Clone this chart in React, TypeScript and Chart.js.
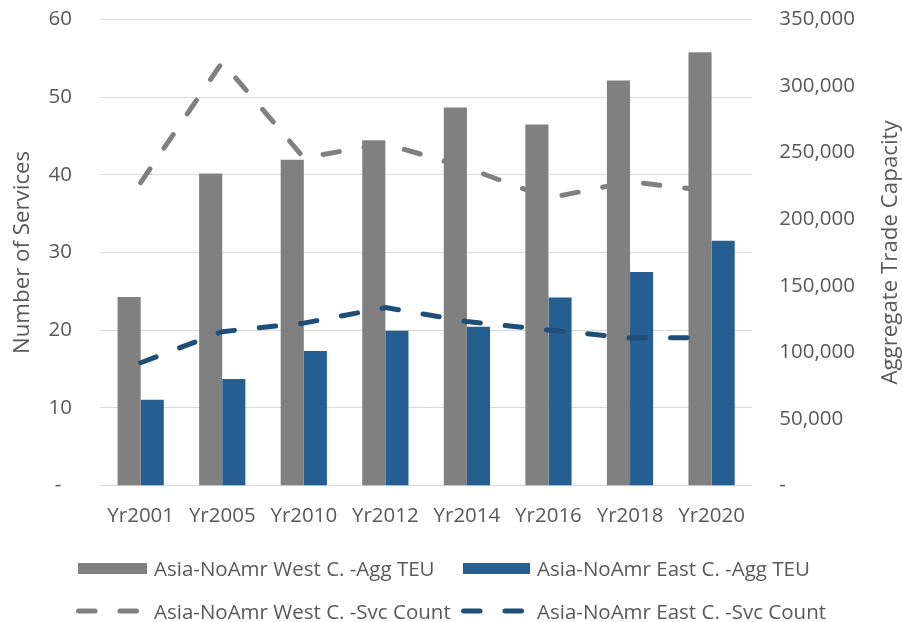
import React, { useEffect, useRef } from 'react';
import { Chart, registerables } from 'chart.js';

Chart.register(...registerables);

// ---------- data ----------
const categories = ['Yr2001', 'Yr2005', 'Yr2010', 'Yr2012', 'Yr2014', 'Yr2016', 'Yr2018', 'Yr2020'];
const westAggTEU = [141600, 234400, 244700, 259200, 283800, 271200, 304100, 325400];
const eastAggTEU = [64400, 80000, 101000, 116100, 119100, 141100, 160400, 183800];
const westSvcCount = [39, 54.5, 42.2, 44, 40.9, 37.0, 39.1, 37.9];
const eastSvcCount = [15.8, 19.8, 20.9, 22.9, 21.1, 20.0, 19.0, 19.0];
const seriesNames = [
  'Asia-NoAmr West C. -Agg TEU',
  'Asia-NoAmr East C. -Agg TEU',
  'Asia-NoAmr West C. -Svc Count',
  'Asia-NoAmr East C. -Svc Count',
];
const leftAxisTitle = 'Number of Services';
const rightAxisTitle = 'Aggregate Trade Capacity';
const leftAxisMax = 60;
const leftAxisStep = 10;
const rightAxisMax = 350000;
const rightAxisStep = 50000;

// ---------- styles ----------
const GRAY = '#808080';
const BLUE = '#255E91';
const NAVY = '#1F4E79';
const TEXT = '#595959';
const GRID = '#D9D9D9';
const FONT = '"Open Sans", "Noto Sans", sans-serif';

const rightTitlePlugin = {
  id: 'rightTitle',
  afterDraw(chart: any) {
    const { ctx, chartArea, width } = chart;
    ctx.save();
    ctx.translate(width - 11, (chartArea.top + chartArea.bottom) / 2);
    ctx.rotate(-Math.PI / 2);
    ctx.font = `22.3px ${FONT}`;
    ctx.fillStyle = TEXT;
    ctx.textAlign = 'center';
    ctx.textBaseline = 'middle';
    ctx.fillText(rightAxisTitle, 0, 0);
    ctx.restore();
  },
};

function LegendDash({ color }: { color: string }) {
  return (
    <svg width={68} height={10} style={{ display: 'block' }}>
      <line
        x1={2.5}
        y1={5}
        x2={63.5}
        y2={5}
        stroke={color}
        strokeWidth={5}
        strokeLinecap="round"
        strokeDasharray="16.5 25"
      />
    </svg>
  );
}

export default function App() {
  const canvasRef = useRef<HTMLCanvasElement | null>(null);

  useEffect(() => {
    if (!canvasRef.current) return;
    const chart = new Chart(canvasRef.current, {
      type: 'bar',
      data: {
        labels: categories,
        datasets: [
          {
            type: 'bar',
            label: seriesNames[0],
            data: westAggTEU,
            backgroundColor: GRAY,
            yAxisID: 'y1',
            order: 2,
            categoryPercentage: 0.567,
            barPercentage: 1,
          },
          {
            type: 'bar',
            label: seriesNames[1],
            data: eastAggTEU,
            backgroundColor: BLUE,
            yAxisID: 'y1',
            order: 2,
            categoryPercentage: 0.567,
            barPercentage: 1,
          },
          {
            type: 'line',
            label: seriesNames[2],
            data: westSvcCount,
            borderColor: GRAY,
            backgroundColor: GRAY,
            borderWidth: 5,
            borderDash: [16.5, 25],
            borderCapStyle: 'round',
            borderJoinStyle: 'round',
            pointRadius: 0,
            tension: 0,
            fill: false,
            yAxisID: 'y',
            order: 1,
          },
          {
            type: 'line',
            label: seriesNames[3],
            data: eastSvcCount,
            borderColor: NAVY,
            backgroundColor: NAVY,
            borderWidth: 5,
            borderDash: [16.5, 25],
            borderCapStyle: 'round',
            borderJoinStyle: 'round',
            pointRadius: 0,
            tension: 0,
            fill: false,
            yAxisID: 'y',
            order: 1,
          },
        ],
      } as any,
      options: {
        responsive: false,
        animation: false,
        layout: { padding: { top: 19.5, left: 0, right: 44, bottom: 76 } },
        plugins: {
          legend: { display: false },
          tooltip: { enabled: false },
        },
        scales: {
          x: {
            grid: { display: false, drawTicks: false },
            border: { display: false },
            ticks: { color: TEXT, font: { family: FONT, size: 20.5 }, padding: 18 },
          },
          y: {
            position: 'left',
            min: 0,
            max: leftAxisMax,
            grid: { color: GRID, lineWidth: 1, drawTicks: true, tickLength: 25, tickColor: 'rgba(0,0,0,0)' },
            border: { display: false },
            ticks: {
              stepSize: leftAxisStep,
              color: TEXT,
              font: { family: FONT, size: 20.5 },
              padding: 3,
              callback: (v: any) => (Number(v) === 0 ? '-  ' : String(v)),
            },
            title: {
              display: true,
              text: leftAxisTitle,
              color: TEXT,
              font: { family: FONT, size: 22.3 },
              padding: { top: 9, bottom: 9.7 },
            },
          },
          y1: {
            position: 'right',
            min: 0,
            max: rightAxisMax,
            grid: { display: false, drawTicks: true, tickLength: 24 },
            border: { display: false },
            ticks: {
              stepSize: rightAxisStep,
              color: TEXT,
              font: { family: FONT, size: 20.5 },
              padding: 3,
              callback: (v: any) => (Number(v) === 0 ? '-' : Number(v).toLocaleString('en-US')),
            },
          },
        },
      } as any,
      plugins: [rightTitlePlugin],
    });
    return () => chart.destroy();
  }, []);

  const legendText: React.CSSProperties = {
    position: 'absolute',
    font: `20.5px ${FONT}`,
    color: TEXT,
    whiteSpace: 'nowrap',
    lineHeight: '1',
    transform: 'translateY(-50%)',
  };
  const row1 = 568;
  const row2 = 611;

  return (
    <div style={{ position: 'fixed', left: 0, top: 0, width: 902, height: 622, overflow: 'hidden', background: '#fff' }}>
      <canvas ref={canvasRef} width={902} height={622} style={{ display: 'block', width: 902, height: 622 }} />
      {/* legend */}
      <div style={{ position: 'absolute', left: 78, top: row1 - 5.5, width: 69, height: 11, background: GRAY }} />
      <div style={{ ...legendText, left: 154, top: row1 }}>{seriesNames[0]}</div>
      <div style={{ position: 'absolute', left: 463, top: row1 - 5.5, width: 67, height: 11, background: BLUE }} />
      <div style={{ ...legendText, left: 537, top: row1 }}>{seriesNames[1]}</div>
      <div style={{ position: 'absolute', left: 76, top: row2 - 5 }}>
        <LegendDash color={GRAY} />
      </div>
      <div style={{ ...legendText, left: 154, top: row2 }}>{seriesNames[2]}</div>
      <div style={{ position: 'absolute', left: 461, top: row2 - 5 }}>
        <LegendDash color={NAVY} />
      </div>
      <div style={{ ...legendText, left: 537, top: row2 }}>{seriesNames[3]}</div>
    </div>
  );
}
